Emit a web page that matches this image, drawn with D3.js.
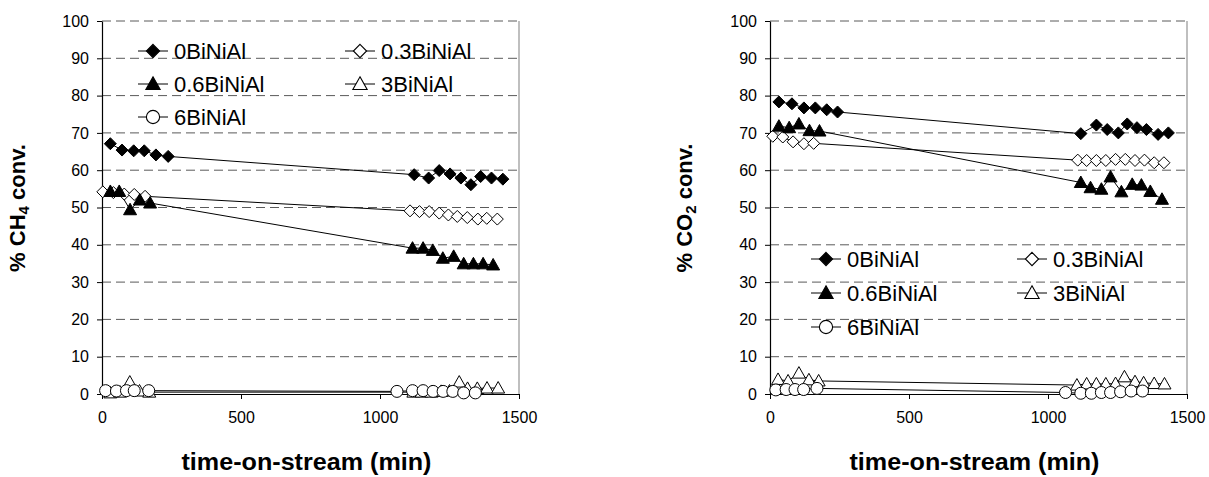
<!DOCTYPE html>
<html><head><meta charset="utf-8">
<script src="https://cdn.jsdelivr.net/npm/d3@7"></script>
<style>body{margin:0;background:#fff}svg{display:block}text{font-family:"Liberation Sans",Arial,sans-serif}</style>
</head><body><svg id="c" width="1209" height="477"></svg>
<script>
const seriesNames = ["0BiNiAl","0.3BiNiAl","0.6BiNiAl","3BiNiAl","6BiNiAl"];
const xTicks = [0,500,1000,1500];
const yTicks = [0,10,20,30,40,50,60,70,80,90,100];

// CH4 panel
const ch4_t0  = [30,72,114,152,194,238,1123,1175,1213,1252,1291,1327,1362,1401,1442];
const ch4_v0  = [67.1,65.4,65.2,65.2,64.1,63.7,58.8,57.9,59.9,59.0,57.9,56.1,58.3,57.9,57.6];
const ch4_t03 = [3,41,80,116,155,1108,1142,1177,1213,1246,1278,1314,1352,1384,1422];
const ch4_v03 = [54.2,54.0,53.6,53.5,53.0,49.1,48.9,48.9,48.5,48.0,47.6,47.3,46.9,47.1,46.9];
const ch4_t06 = [30,62,101,136,173,1117,1155,1190,1226,1265,1301,1336,1371,1407];
const ch4_v06 = [54.3,54.3,49.4,52.0,51.2,39.1,39.1,38.5,36.4,36.9,34.9,34.9,34.9,34.6];
const ch4_t3  = [30,65,100,135,170,1120,1150,1185,1220,1250,1285,1315,1350,1385,1425];
const ch4_v3  = [0.3,0.5,3.2,0.8,0.5,0.5,0.5,0.5,0.7,0.8,3.2,1.5,1.5,1.6,1.6];
const ch4_t6  = [13,52,88,116,168,1061,1117,1155,1191,1227,1262,1301,1343];
const ch4_v6  = [0.9,0.8,0.9,0.9,0.9,0.7,0.9,0.9,0.7,0.7,0.7,0.3,0.3];

// CO2 panel
const co2_t0  = [32,79,122,163,204,243,1118,1174,1213,1253,1285,1320,1354,1396,1433];
const co2_v0  = [78.3,77.8,76.7,76.7,76.2,75.6,69.8,72.1,70.9,70.0,72.4,71.4,70.9,69.6,70.0];
const co2_t03 = [10,46,83,122,157,1107,1139,1174,1208,1243,1278,1313,1347,1382,1417];
const co2_v03 = [69.1,68.9,67.6,67.1,67.2,62.7,62.6,62.6,62.6,62.9,62.9,62.6,62.7,62.0,62.0];
const co2_t06 = [32,69,104,142,178,1118,1153,1192,1225,1264,1303,1336,1368,1410];
const co2_v06 = [71.8,71.4,72.4,70.6,70.5,56.7,55.3,54.9,58.2,54.2,56.2,56.0,54.3,52.2];
const co2_t3  = [29,65,104,140,175,1104,1139,1174,1208,1243,1275,1313,1344,1382,1419];
const co2_v3  = [3.9,3.5,5.6,3.8,3.5,2.4,2.7,2.7,2.7,2.8,4.6,3.3,3.0,2.8,2.7];
const co2_t6  = [21,58,90,121,169,1063,1118,1156,1192,1225,1261,1299,1340];
const co2_v6  = [1.1,1.2,1.2,1.2,1.5,0.4,0.2,0.2,0.4,0.4,0.6,0.8,0.8];

const markers = ["diamondF","diamondO","triangleF","triangleO","circleO"];

const svg = d3.select("#c");

function markerPath(type){
  if(type.startsWith("diamond")) return "M0,-6L6,0L0,6L-6,0Z";
  if(type.startsWith("triangle")) return "M0,-6.5L6.5,5L-6.5,5Z";
  return d3.symbol(d3.symbolCircle, Math.PI*6*6)();
}

function panel(cfg){
  const g = svg.append("g");
  const x = d3.scaleLinear().domain([0,1500]).range([cfg.x0, cfg.x0+417]);
  const y = d3.scaleLinear().domain([0,100]).range([394, 21]);
  g.selectAll("line.grid").data(yTicks.filter(d=>d>0)).join("line")
    .attr("x1", x(0)).attr("x2", x(1500)).attr("y1", d=>y(d)).attr("y2", d=>y(d))
    .attr("stroke","#5a5a5a").attr("stroke-width",1).attr("stroke-dasharray","9,5");
  g.append("line").attr("x1",x(1500)).attr("x2",x(1500)).attr("y1",y(100)).attr("y2",y(0))
    .attr("stroke","#aaa").attr("stroke-width",1.5);
  const ax = g.append("g").attr("transform",`translate(0,${y(0)})`)
    .call(d3.axisBottom(x).tickValues(xTicks).tickFormat(d3.format("d")).tickSize(5).tickPadding(13).tickSizeOuter(0));
  const ay = g.append("g").attr("transform",`translate(${x(0)},0)`)
    .call(d3.axisLeft(y).tickValues(yTicks).tickFormat(d3.format("d")).tickSize(5).tickPadding(8).tickSizeOuter(0));
  [ax,ay].forEach(a=>{
    a.selectAll("text").attr("font-size",16).attr("fill","#000").style("font-family","Liberation Sans, Arial");
    a.selectAll("line").attr("stroke","#000");
    a.select(".domain").attr("stroke","#000").attr("stroke-width",1.2);
  });
  const line = d3.line().x(d=>x(d[0])).y(d=>y(d[1]));
  cfg.series.forEach((s,i)=>{
    const pts = s.t.map((t,k)=>[t,s.v[k]]);
    g.append("path").attr("d",line(pts)).attr("fill","none").attr("stroke","#000").attr("stroke-width",1);
  });
  cfg.series.forEach((s,i)=>{
    const pts = s.t.map((t,k)=>[t,s.v[k]]);
    const m = markers[i];
    g.selectAll(null).data(pts).join("path")
      .attr("transform",d=>`translate(${x(d[0])},${y(d[1])})`)
      .attr("d",markerPath(m))
      .attr("fill", m.endsWith("F")?"#000":"#fff")
      .attr("stroke","#000").attr("stroke-width",1);
  });
  seriesNames.forEach((name,i)=>{
    const col = i%2, row = Math.floor(i/2);
    const cx = cfg.leg.cols[col], cy = cfg.leg.rows[row];
    const lg = g.append("g");
    lg.append("line").attr("x1",cx-15).attr("x2",cx+15).attr("y1",cy).attr("y2",cy)
      .attr("stroke","#000").attr("stroke-width",1);
    lg.append("path").attr("transform",`translate(${cx},${cy}) scale(1.1)`).attr("d",markerPath(markers[i]))
      .attr("fill", markers[i].endsWith("F")?"#000":"#fff").attr("stroke","#000");
    lg.append("text").attr("x",cx+21).attr("y",cy).attr("dy","0.36em")
      .attr("font-size",22).text(name);
  });
  g.append("text").attr("x",(x(0)+x(1500))/2 - 4).attr("y",470).attr("text-anchor","middle")
    .attr("font-size",23).attr("font-weight","bold")
    .attr("textLength",250).attr("lengthAdjust","spacingAndGlyphs").text("time-on-stream (min)");
  const yt = g.append("text").attr("transform",`translate(${cfg.ytx},208) rotate(-90)`)
    .attr("text-anchor","middle").attr("font-size",22).attr("font-weight","bold");
  yt.append("tspan").text(cfg.ylab[0]);
  yt.append("tspan").attr("font-size",15).attr("dy",4).text(cfg.ylab[1]);
  yt.append("tspan").attr("dy",-4).text(cfg.ylab[2]);
}

panel({x0:102, ytx:25, ylab:["% CH","4"," conv."],
  leg:{cols:[153,360], rows:[51,84,117]},
  series:[{t:ch4_t0,v:ch4_v0},{t:ch4_t03,v:ch4_v03},{t:ch4_t06,v:ch4_v06},{t:ch4_t3,v:ch4_v3},{t:ch4_t6,v:ch4_v6}]});
panel({x0:770, ytx:692, ylab:["% CO","2"," conv."],
  leg:{cols:[826,1032], rows:[259,293,327]},
  series:[{t:co2_t0,v:co2_v0},{t:co2_t03,v:co2_v03},{t:co2_t06,v:co2_v06},{t:co2_t3,v:co2_v3},{t:co2_t6,v:co2_v6}]});
</script></body></html>
